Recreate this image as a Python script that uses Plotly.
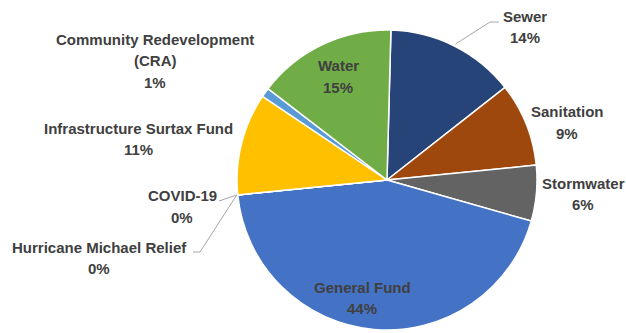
import math
import plotly.graph_objects as go

# Budget share by fund, listed clockwise from 12 o'clock
funds = ["Sewer", "Sanitation", "Stormwater", "General Fund",
         "Hurricane Michael Relief", "COVID-19", "Infrastructure Surtax Fund",
         "Community Redevelopment (CRA)", "Water"]
shares = [14, 9, 6, 44, 0, 0, 11, 1, 15]
colors = ["#264478", "#9E480E", "#636363", "#4472C4",
          "#ED7D31", "#A5A5A5", "#FFC000", "#5B9BD5", "#70AD47"]

W, H = 626, 333
CX, CY, R = 387, 180, 150          # pie centre and radius in pixels
ROTATION = 1.5                      # degrees, clockwise from 12 o'clock
TEXT = "#404040"
FONT = "Liberation Sans, Arial, sans-serif"
FONT_SIZE = 15
LINE_GAP = 21.5


def px(x, y):
    """Pixel position -> paper coordinates."""
    return x / W, 1 - y / H


def edge_point(name, extra=2.0):
    """Point just outside the pie rim at the middle angle of a slice."""
    total = sum(shares)
    i = funds.index(name)
    start = ROTATION + sum(shares[:i]) / total * 360
    mid = start + shares[i] / total * 180
    a = math.radians(mid)
    return CX + (R + extra) * math.sin(a), CY - (R + extra) * math.cos(a)


fig = go.Figure(go.Pie(
    labels=funds, values=shares, sort=False, direction="clockwise", rotation=ROTATION,
    marker=dict(colors=colors, line=dict(color="white", width=1.5)),
    textinfo="none", hoverinfo="skip", showlegend=False,
    domain=dict(x=[(CX - R) / W, (CX + R) / W],
                y=[1 - (CY + R) / H, 1 - (CY - R) / H]),
))

# centre of each label's first line (pixels)
label_pos = {
    "Sewer": (525, 16),
    "Sanitation": (567, 112),
    "Stormwater": (583, 183),
    "General Fund": (362, 287),
    "Hurricane Michael Relief": (99, 247),
    "COVID-19": (182, 196),
    "Infrastructure Surtax Fund": (138, 128),
    "Community Redevelopment (CRA)": (155, 39),
    "Water": (338, 66),
}
display = {"Community Redevelopment (CRA)": ["Community Redevelopment", "(CRA)"]}

total = sum(shares)
for name, val in zip(funds, shares):
    lines = display.get(name, [name]) + [f"{round(100 * val / total)}%"]
    x0, y0 = label_pos[name]
    for k, line in enumerate(lines):
        x, y = px(x0, y0 + k * LINE_GAP)
        fig.add_annotation(
            x=x, y=y, xref="paper", yref="paper", xanchor="center", yanchor="middle",
            text=f"<b>{line}</b>", showarrow=False,
            font=dict(family=FONT, size=FONT_SIZE, color=TEXT),
        )

# leader lines
def path(points):
    pts = [px(*p) for p in points]
    return "M " + " L ".join(f"{a},{b}" for a, b in pts)

ex, ey = edge_point("Sewer")
cx_, cy_ = edge_point("COVID-19", extra=1)
hx, hy = edge_point("Hurricane Michael Relief", extra=1)
for pts in ([(ex, ey), (490, 22), (499, 22)],
            [(219, 201), (cx_, cy_)],
            [(193, 252), (200, 252), (hx, hy)]):
    fig.add_shape(type="path", xref="paper", yref="paper", path=path(pts),
                  line=dict(color="#A6A6A6", width=1))

fig.update_layout(width=W, height=H, margin=dict(l=0, r=0, t=0, b=0),
                  paper_bgcolor="white", plot_bgcolor="white")
fig.write_html("out.html")
